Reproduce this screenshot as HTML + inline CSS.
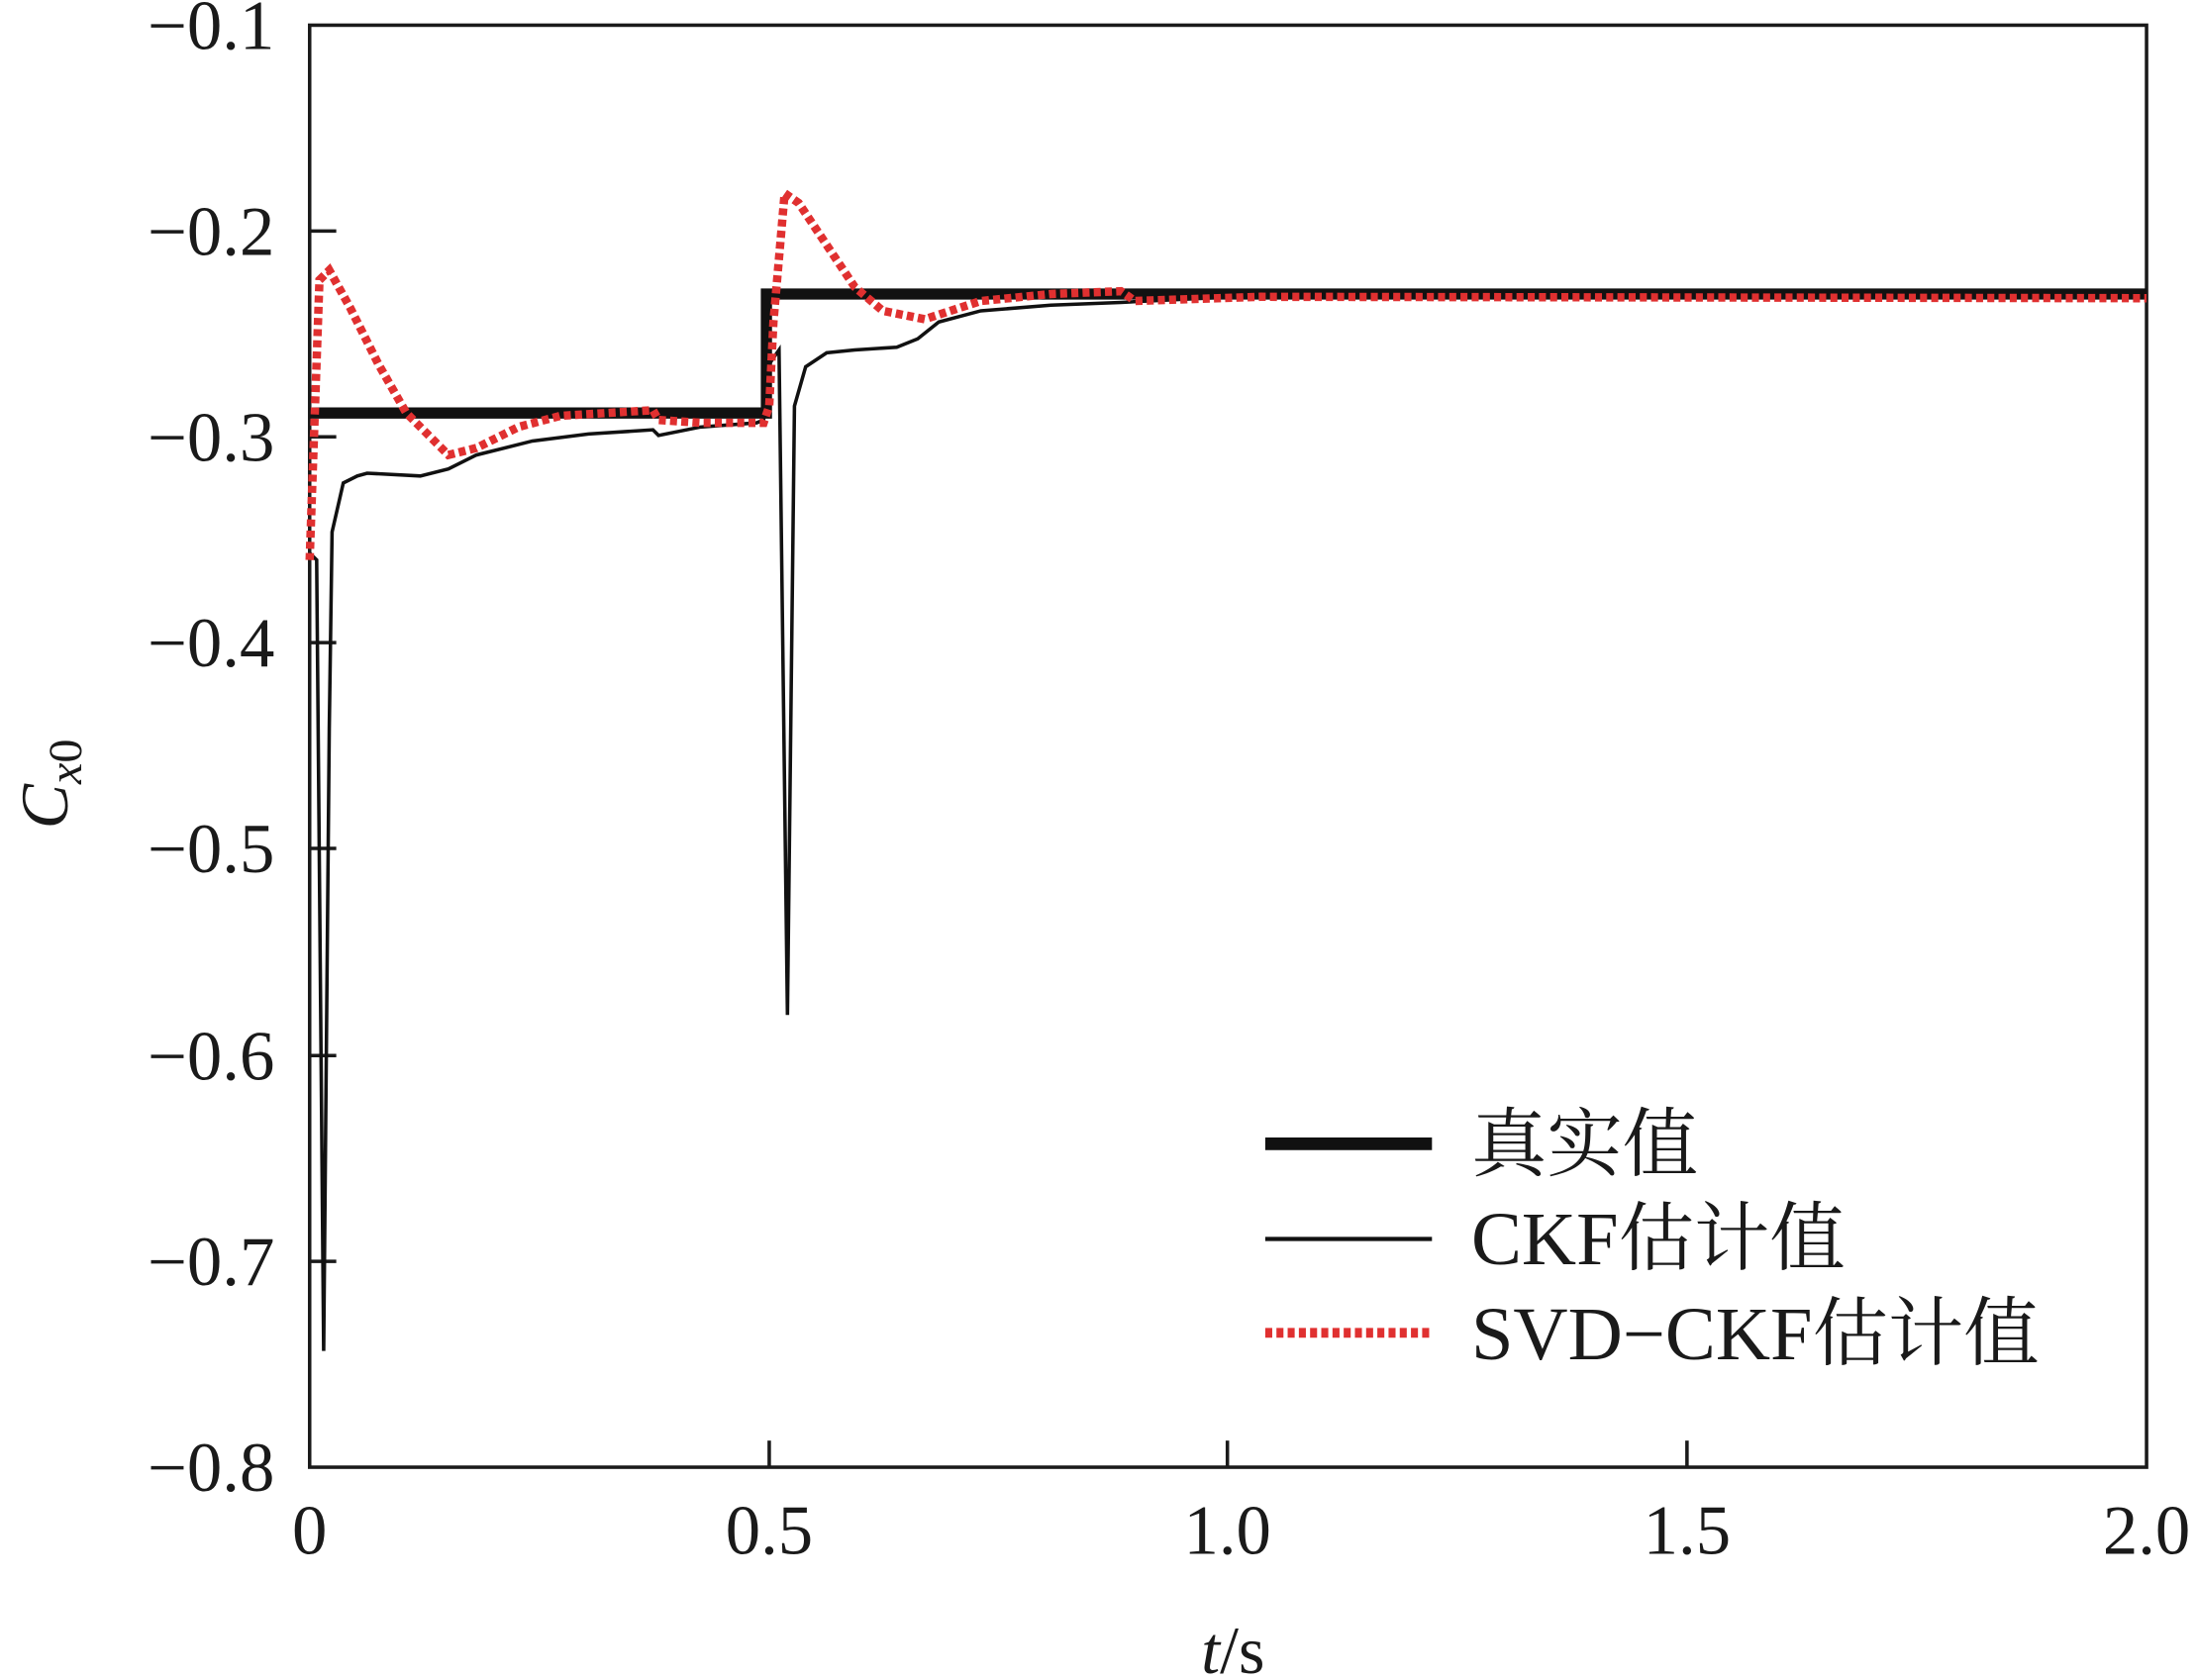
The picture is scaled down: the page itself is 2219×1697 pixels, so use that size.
<!DOCTYPE html>
<html><head><meta charset="utf-8"><style>
html,body{margin:0;padding:0;background:#fff;}
svg{display:block;}
text{font-family:"Liberation Serif","Noto Serif CJK SC",serif;fill:#1a1a1a;}
</style></head><body>
<svg width="2219" height="1697" viewBox="0 0 1568 1200" preserveAspectRatio="none" xmlns="http://www.w3.org/2000/svg">
<rect x="0" y="0" width="1568" height="1200" fill="#fff"/>
<rect x="221" y="18" width="1311" height="1030" fill="none" stroke="#1a1a1a" stroke-width="2.5"/>
<g stroke="#1a1a1a" stroke-width="2.5">
<line x1="221" y1="165" x2="240" y2="165"/>
<line x1="221" y1="312" x2="240" y2="312"/>
<line x1="221" y1="459" x2="240" y2="459"/>
<line x1="221" y1="606" x2="240" y2="606"/>
<line x1="221" y1="754" x2="240" y2="754"/>
<line x1="221" y1="901" x2="240" y2="901"/>
<line x1="549" y1="1048" x2="549" y2="1029"/>
<line x1="876" y1="1048" x2="876" y2="1029"/>
<line x1="1204" y1="1048" x2="1204" y2="1029"/>
</g>
<g font-size="50" text-anchor="end">
<text x="196" y="35">−0.1</text>
<text x="196" y="182">−0.2</text>
<text x="196" y="329">−0.3</text>
<text x="196" y="476">−0.4</text>
<text x="196" y="623">−0.5</text>
<text x="196" y="771">−0.6</text>
<text x="196" y="918">−0.7</text>
<text x="196" y="1065">−0.8</text>
</g>
<g font-size="50" text-anchor="middle">
<text x="221" y="1110">0</text>
<text x="549" y="1110">0.5</text>
<text x="876" y="1110">1.0</text>
<text x="1204" y="1110">1.5</text>
<text x="1532" y="1110">2.0</text>
</g>
<text x="880" y="1195" font-size="48" text-anchor="middle"><tspan font-style="italic">t</tspan>/s</text>
<text transform="translate(48,560) rotate(-90)" font-size="48" text-anchor="middle"><tspan font-style="italic">C</tspan><tspan font-style="italic" font-size="34" dy="10">x</tspan><tspan font-size="34">0</tspan></text>
<polyline fill="none" stroke="#111" stroke-width="8" points="221,295 547,295 547,210 1532,210"/>
<polyline fill="none" stroke="#111" stroke-width="2.5" points="221,395 226,400 231,965 235,520 237,380 245,345 255,340 262,338 300,340 320,335 340,325 380,315 420,310 466,307 470,311 500,305 540,302 545,300 549,260 556,250 562,725 567,290 575,262 590,252 610,250 640,248 655,242 670,230 700,222 750,218 800,216 880,212 1532,212"/>
<polyline fill="none" stroke="#e03030" stroke-width="6" stroke-dasharray="5,3" points="221,400 228,200 235,193 250,220 270,260 290,295 320,325 340,320 370,305 400,297 466,293 470,300 500,302 545,302 549,290 552,230 560,138 570,145 590,175 610,205 630,222 660,228 700,215 750,210 800,208 810,215 900,212 1532,213"/>
<line x1="903" y1="817" x2="1022" y2="817" stroke="#111" stroke-width="9"/>
<line x1="903" y1="885" x2="1022" y2="885" stroke="#111" stroke-width="3"/>
<line x1="903" y1="952" x2="1022" y2="952" stroke="#e03030" stroke-width="7" stroke-dasharray="5,3"/>
<g font-size="54">
<text x="1050" y="836">真实值</text>
<text x="1050" y="903">CKF估计值</text>
<text x="1050" y="971">SVD−CKF估计值</text>
</g>
</svg>
</body></html>
